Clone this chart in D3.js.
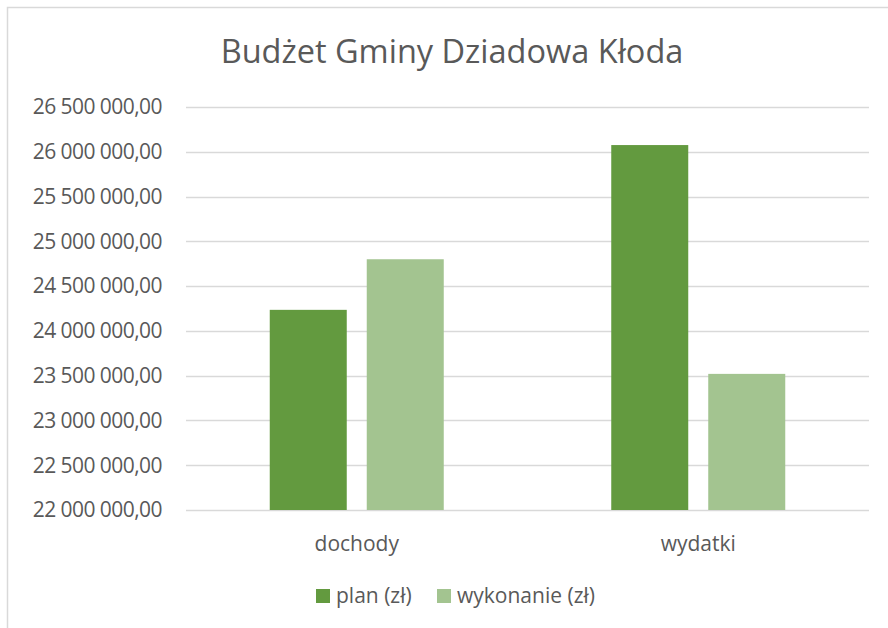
<!DOCTYPE html>
<html>
<head>
<meta charset="utf-8">
<script src="https://cdn.jsdelivr.net/npm/d3@7"></script>
<style>
  body { margin: 0; background: #fff; }
  text { font-family: "Open Sans", "Noto Sans", sans-serif; fill: #595959; }
</style>
</head>
<body>
<svg id="chart" width="888" height="628"></svg>
<script>
// data
const categories = ["dochody", "wydatki"];
const seriesNames = ["plan (zł)", "wykonanie (zł)"];
const planValues = [24235000, 26075000];
const wykonanieValues = [24800000, 23520000];
const yTicks = [22000000, 22500000, 23000000, 23500000, 24000000, 24500000, 25000000, 25500000, 26000000, 26500000];
const colors = ["#639a3f", "#a3c490"];

const svg = d3.select("#chart");

// frame
svg.append("rect")
    .attr("x", 7.5).attr("y", 7.5)
    .attr("width", 900).attr("height", 700)
    .attr("fill", "none")
    .attr("stroke", "#d9d9d9")
    .attr("stroke-width", 1.5);

// sizes
const plot = { left: 186, right: 869, top: 107, bottom: 510 };

const x0 = d3.scaleBand().domain(categories).range([plot.left, plot.right]);
const x1 = d3.scaleBand().domain(seriesNames).range([0, 2 * 77 + 20]).paddingInner(20 / 97);
const y = d3.scaleLinear().domain([22000000, 26500000]).range([plot.bottom, plot.top]);

// format "26 500 000,00"
const fmt = v => d3.format(",.2f")(v).replace(/,/g, " ").replace(".", ",");

// gridlines
svg.append("g").selectAll("line")
    .data(yTicks)
    .join("line")
    .attr("x1", plot.left).attr("x2", plot.right)
    .attr("y1", d => Math.round(y(d)) + 0.5).attr("y2", d => Math.round(y(d)) + 0.5)
    .attr("stroke", "#d9d9d9")
    .attr("stroke-width", 1.5);

// y axis labels
svg.append("g").selectAll("text")
    .data(yTicks)
    .join("text")
    .attr("x", 162)
    .attr("y", d => y(d))
    .attr("dy", "0.35em")
    .attr("text-anchor", "end")
    .style("font-size", "21px")
    .style("letter-spacing", "-0.55px")
    .text(fmt);

// bars
const rows = categories.map((c, i) => ({ cat: c, vals: [planValues[i], wykonanieValues[i]] }));
const groups = svg.append("g").selectAll("g")
    .data(rows)
    .join("g")
    .attr("transform", d => `translate(${x0(d.cat) + x0.bandwidth() / 2 - 87},0)`);

groups.selectAll("rect")
    .data(d => d.vals.map((v, j) => ({ s: seriesNames[j], v: v, j: j })))
    .join("rect")
    .attr("x", d => x1(d.s))
    .attr("width", x1.bandwidth())
    .attr("y", d => y(d.v))
    .attr("height", d => y(22000000) - y(d.v))
    .attr("fill", d => colors[d.j]);

// category labels
svg.append("g").selectAll("text")
    .data(categories)
    .join("text")
    .attr("x", d => x0(d) + x0.bandwidth() / 2)
    .attr("y", 544)
    .attr("dy", "0.35em")
    .attr("text-anchor", "middle")
    .style("font-size", "21px")
    .text(d => d);

// title
svg.append("text")
    .attr("x", 452)
    .attr("y", 52)
    .attr("dy", "0.35em")
    .attr("text-anchor", "middle")
    .style("font-size", "32.5px")
    .text("Budżet Gminy Dziadowa Kłoda");

// legend
const legendX = [316, 437];
const legend = svg.append("g").selectAll("g")
    .data(seriesNames)
    .join("g")
    .attr("transform", (d, i) => `translate(${legendX[i]},589)`);

legend.append("rect")
    .attr("width", 14).attr("height", 14)
    .attr("fill", (d, i) => colors[i]);

legend.append("text")
    .attr("x", 20)
    .attr("y", 7)
    .attr("dy", "0.35em")
    .style("font-size", "21px")
    .text(d => d);
</script>
</body>
</html>
